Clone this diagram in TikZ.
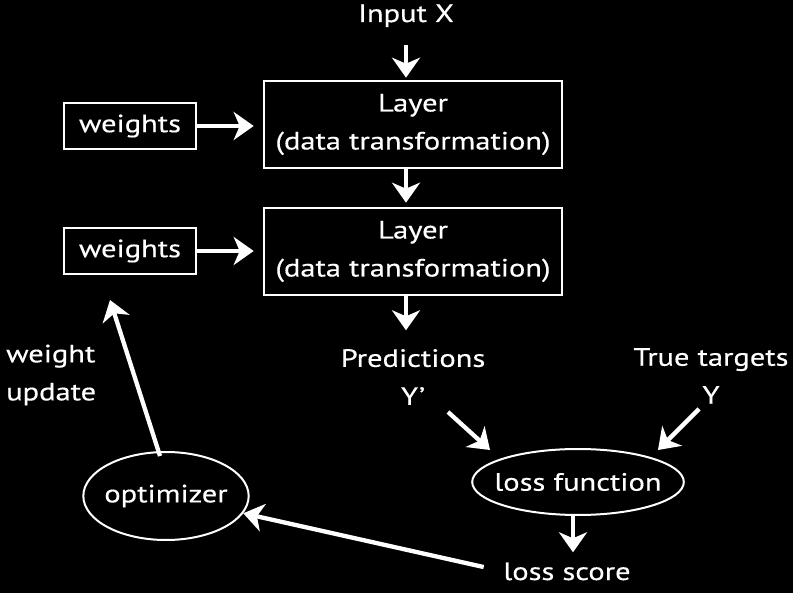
\documentclass[tikz,border=0pt]{standalone}
\usepackage{fontspec}
\setmainfont{PT Sans}[FakeStretch=1.22,FakeBold=0.4]
\usetikzlibrary{arrows.meta,shapes.geometric}
\begin{document}
\begin{tikzpicture}[x=1pt,y=-1pt,
  every node/.style={text=white,font=\fontsize{25}{38}\selectfont,inner sep=0pt},
  boxl/.style={draw=white,line width=2.6pt,minimum width=298pt,minimum height=87pt,align=center},
  wbox/.style={draw=white,line width=2.6pt,minimum width=132pt,minimum height=46pt},
  ell/.style={draw=white,line width=2pt,ellipse},
  arr/.style={draw=white,line width=4.3pt,-{Stealth[length=20pt,width=28pt,inset=6pt]}},
  lbl/.style={align=center}]
\fill[black] (0,0) rectangle (793,593);
\useasboundingbox (0,0) rectangle (793,593);

\node[anchor=base] (in) at (406,22) {Input X};
\node[boxl] (l1) at (413,124.5) {Layer\\(data transformation)};
\node[boxl] (l2) at (413,251.5) {Layer\\(data transformation)};
\node[wbox] (w1) at (130,126) {weights};
\node[wbox] (w2) at (130,251) {weights};
\node[lbl] (pred) at (413,377) {Predictions\\Y'};
\node[lbl] (tt) at (711,376) {True targets\\Y};
\node[ell,inner xsep=-8.8pt,minimum height=66pt] (loss) at (578,482) {loss function};
\node[anchor=base] (ls) at (567,580) {loss score};
\node[ell,inner xsep=-3.2pt,minimum height=88pt] (opt) at (166,496) {optimizer};
\node[align=left,anchor=west] (wu) at (6,375) {weight\\update};

\coordinate (ps) at (448,412);
\coordinate (pe) at (490,450);
\coordinate (ts) at (699,409);
\coordinate (te) at (658,450);
\coordinate (wt) at (110,300);

\draw[arr,shorten <=18pt,shorten >=2pt] (in.south) -- (in.south |- l1.north);
\draw[arr,shorten >=4pt] (l1.south -| in.south) -- (l2.north -| in.south);
\draw[arr] (l2.south -| in.south) -- ++(0,34);
\draw[arr,shorten >=9pt] (w1.east) -- (l1.west |- w1.east);
\draw[arr,shorten >=9pt] (w2.east) -- (l2.west |- w2.east);
\draw[arr] (ps) -- (pe);
\draw[arr] (ts) -- (te);
\draw[arr,shorten >=10pt] ([xshift=-5pt]loss.south) -- ([xshift=-5pt]loss.south |- ls.north);
\draw[arr,shorten <=20pt] (ls.west) -- (opt);
\draw[arr] ([shift={(-6pt,-5pt)}]opt.north) -- (wt);
\end{tikzpicture}
\end{document}
